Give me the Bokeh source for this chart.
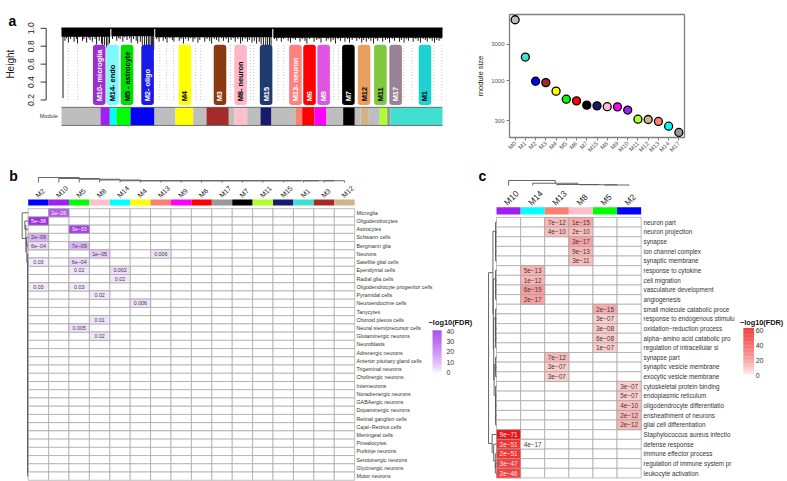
import math
import numpy as np
from bokeh.plotting import figure
from bokeh.layouts import column, row
from bokeh.models import Range1d, FixedTicker, ColumnDataSource, NumeralTickFormatter
from bokeh.embed import file_html
from bokeh.resources import INLINE
from bokeh.core.properties import value

FONT = "Liberation Sans"
MINUS = "\u2212"

# ---------------- module colours (WGCNA standard) ----------------
MODULE_COLORS = {"M0": "#bebebe", "M1": "#40e0d0", "M2": "#0000ff", "M3": "#a52a2a",
                 "M4": "#ffff00", "M5": "#00ff00", "M6": "#ff0000", "M7": "#000000",
                 "M8": "#ffc0cb", "M9": "#ff00ff", "M10": "#a020f0", "M11": "#adff2f",
                 "M12": "#d2b48c", "M13": "#fa8072", "M14": "#00ffff", "M15": "#191970",
                 "M17": "#999999"}

# ---------------- panel a: gene dendrogram ----------------
a_box_labels = ["M10- microglia", "M14- endo", "M5 - astrocyte", "M2- oligo", "M4", "M3",
                "M8- neuron", "M15", "M13- neuron", "M6", "M9", "M7", "M12", "M11", "M17", "M1"]
a_box_pos = [9.9, 13.4, 17.2, 22.6, 32.4, 41.6, 47.0, 53.7, 61.4, 65.1, 68.8, 75.3, 79.4, 83.7, 87.7, 95.4]
a_box_colors = ["#9b30d0", "#80f8ff", "#00e000", "#1a1ae8", "#ffff00", "#8b3a10", "#ffb6c8",
                "#1f3a6e", "#ff8080", "#ff0000", "#e055e0", "#000000", "#e8a060", "#80c840",
                "#9a8296", "#1ed2d2"]
a_box_text_colors = ["white", "black", "black", "white", "black", "white", "black", "white",
                     "white", "white", "white", "white", "black", "black", "white", "black"]
a_bar_edges = [0, 10.24, 12.68, 14.44, 18.11, 24.41, 29.92, 34.57, 38.06, 43.91, 45.41, 48.74,
               52.23, 55.12, 61.42, 63.18, 66.4, 69.55, 73.93, 76.98, 78.48, 80.66, 83.54,
               85.48, 86.35, 100]
a_bar_modules = ["M0", "M10", "M14", "M5", "M2", "M0", "M4", "M0", "M3", "M0", "M8", "M0", "M15",
                 "M0", "M13", "M6", "M9", "M0", "M7", "M0", "M12", "M0", "M11", "M17", "M1"]
a_leaf_x = [1.8, 4.2, 25.8, 27.6, 29.4, 35.2, 36.5, 44.4, 49.6, 50.4, 56.9, 58.3, 71.4, 72.7,
            89.8, 92.0, 97.7, 99.8]
a_band_left = [0.0, 13.1, 24.6, 55.6]
a_band_right = [12.8, 24.3, 55.3, 100.0]
a_band_bottom = [0.905, 0.91, 0.9, 0.895]
a_spike_x = [0.4, 0.9, 1.3, 1.8, 2.4, 2.7, 3.3, 3.9, 4.2, 4.8, 5.5, 5.9, 6.6, 7.2, 7.5, 8.1, 8.8,
             9.2, 9.9, 10.5, 10.8, 11.3, 11.8, 12.2, 12.6,
             13.4, 13.9, 14.5, 15.0, 15.4, 16.1, 16.6, 17.2, 17.9, 18.3, 18.9, 19.6, 20.0, 20.7,
             21.2, 21.8, 22.3, 22.8, 23.2, 23.6, 23.9, 24.2,
             25.0, 25.6, 26.0, 26.7, 27.3, 27.7, 28.4, 29.1, 29.5, 30.2, 30.9, 31.4, 32.0, 32.6,
             33.3, 33.8, 34.5, 35.0, 35.8, 36.3, 37.0, 37.6, 38.2, 38.9, 39.4, 40.1, 40.7, 41.3,
             42.0, 42.5, 43.2, 43.8, 44.5, 45.1, 45.6, 46.3, 47.0, 47.5, 48.2, 48.8, 49.3, 50.0,
             50.6, 51.2, 51.9, 52.4, 53.0, 53.6, 54.1, 54.6, 55.0,
             55.9, 56.5, 57.0, 57.7, 58.3, 58.8, 59.5, 60.1, 60.8, 61.4, 61.9, 62.6, 63.2, 63.9,
             64.4, 65.1, 65.7, 66.3, 67.0, 67.6, 68.1, 68.8, 69.5, 70.0, 70.7, 71.3, 71.9, 72.6,
             73.2, 73.7, 74.4, 75.1, 75.6, 76.3, 76.9, 77.5, 78.2, 78.8, 79.3, 80.0, 80.6, 81.2,
             81.9, 82.5, 83.0, 83.7, 84.3, 85.0, 85.6, 86.1, 86.8, 87.4, 88.0, 88.7, 89.2, 89.9,
             90.5, 91.1, 91.8, 92.3, 93.0, 93.6, 94.2, 94.9, 95.5, 96.0, 96.7, 97.3, 97.9, 98.5,
             99.1, 99.6]
a_spike_h = [0.22, 0.86, 0.89, 0.84, 0.88, 0.91, 0.85, 0.88, 0.83, 0.90, 0.86, 0.88, 0.84, 0.89,
             0.87, 0.85, 0.88, 0.82, 0.86, 0.83, 0.80, 0.81, 0.78, 0.79, 0.83,
             0.88, 0.91, 0.86, 0.89, 0.88, 0.85, 0.90, 0.87, 0.89, 0.84, 0.88, 0.86, 0.83, 0.85,
             0.81, 0.80, 0.77, 0.75, 0.73, 0.71, 0.72, 0.76,
             0.88, 0.85, 0.90, 0.86, 0.88, 0.84, 0.89, 0.87, 0.85, 0.90, 0.86, 0.88, 0.83, 0.88,
             0.86, 0.89, 0.85, 0.88, 0.84, 0.87, 0.90, 0.85, 0.88, 0.86, 0.83, 0.88, 0.87, 0.85,
             0.89, 0.86, 0.88, 0.84, 0.87, 0.89, 0.85, 0.88, 0.83, 0.86, 0.88, 0.85, 0.87, 0.84,
             0.86, 0.83, 0.85, 0.82, 0.81, 0.79, 0.80, 0.78, 0.81,
             0.88, 0.86, 0.89, 0.85, 0.88, 0.90, 0.86, 0.84, 0.88, 0.87, 0.89, 0.85, 0.88, 0.86,
             0.83, 0.88, 0.90, 0.85, 0.87, 0.88, 0.84, 0.89, 0.86, 0.88, 0.85, 0.87, 0.83, 0.88,
             0.86, 0.89, 0.85, 0.88, 0.84, 0.87, 0.89, 0.86, 0.88, 0.84, 0.87, 0.85, 0.88, 0.86,
             0.83, 0.88, 0.86, 0.89, 0.85, 0.87, 0.88, 0.84, 0.88, 0.86, 0.89, 0.85, 0.87, 0.84,
             0.88, 0.86, 0.89, 0.85, 0.88, 0.86, 0.84, 0.88, 0.87, 0.85, 0.88, 0.86, 0.84, 0.87,
             0.86, 0.88]
a_height_ticks = [0.2, 0.4, 0.6, 0.8, 1.0]

# ---------------- scatter: module sizes ----------------
s_modules = ["M0", "M1", "M2", "M3", "M4", "M5", "M6", "M7", "M15", "M8", "M9", "M10",
             "M11", "M12", "M13", "M14", "M17"]
s_sizes = [6300, 2050, 990, 950, 735, 577, 548, 482, 472, 460, 458, 416, 316, 313, 295, 256, 212]
s_ticks = [300, 1000, 3000]

# ---------------- panel b: cell-type enrichment ----------------
b_cols = ["M2", "M10", "M5", "M8", "M14", "M4", "M13", "M9", "M6", "M17", "M7", "M11",
          "M15", "M1", "M3", "M12"]
b_rows = ["Microglia", "Oligodendrocytes", "Astrocytes", "Schwann cells", "Bergmann glia",
          "Neurons", "Satellite glial cells", "Ependymal cells", "Radial glia cells",
          "Oligodendrocyte progenitor cells", "Pyramidal cells", "Neuroendocrine cells",
          "Tanycytes", "Choroid plexus cells", "Neural stem/precursor cells",
          "Glutaminergic neurons", "Neuroblasts", "Adrenergic neurons",
          "Anterior pituitary gland cells", "Trigeminal neurons", "Cholinergic neurons",
          "Interneurons", "Noradrenergic neurons", "GABAergic neurons", "Dopaminergic neurons",
          "Retinal ganglion cells", "Cajal" + MINUS + "Retzius cells", "Meningeal cells",
          "Pinealocytes", "Purkinje neurons", "Serotonergic neurons", "Glycinergic neurons",
          "Motor neurons"]
b_hit_rows = ["Microglia", "Oligodendrocytes", "Astrocytes", "Schwann cells", "Bergmann glia",
              "Bergmann glia", "Neurons", "Neurons", "Satellite glial cells",
              "Satellite glial cells", "Ependymal cells", "Ependymal cells", "Radial glia cells",
              "Oligodendrocyte progenitor cells", "Oligodendrocyte progenitor cells",
              "Pyramidal cells", "Neuroendocrine cells", "Choroid plexus cells",
              "Neural stem/precursor cells", "Glutaminergic neurons"]
b_hit_cols = ["M10", "M2", "M5", "M2", "M2", "M5", "M8", "M13", "M2", "M5", "M5", "M14", "M14",
              "M2", "M5", "M8", "M4", "M8", "M5", "M8"]
b_hit_fdr = ["1e-26", "5e-38", "3e-33", "2e-09", "6e-04", "7e-09", "1e-05", "0.006", "0.03",
             "6e-04", "0.02", "0.002", "0.02", "0.03", "0.03", "0.02", "0.006", "0.01",
             "0.005", "0.02"]
b_legend_ticks = [0, 10, 20, 30, 40]

# ---------------- panel c: GO enrichment ----------------
c_cols = ["M10", "M14", "M13", "M8", "M5", "M2"]
c_rows = ["neuron part", "neuron projection", "synapse", "ion channel complex",
          "synaptic membrane", "response to cytokine", "cell migration",
          "vasculature development", "angiogenesis", "small molecule catabolic proce",
          "response to endogenous stimulu", "oxidation" + MINUS + "reduction process",
          "alpha" + MINUS + "amino acid catabolic pro", "regulation of intracellular si",
          "synapse part", "synaptic vesicle membrane", "exocytic vesicle membrane",
          "cytoskeletal protein binding", "endoplasmic reticulum",
          "oligodendrocyte differentiatio", "ensheathment of neurons",
          "glial cell differentiation", "Staphylococcus aureus infectio", "defense response",
          "immune effector process", "regulation of immune system pr", "leukocyte activation"]
c_hit_rows = [0, 0, 1, 1, 2, 3, 4, 5, 6, 7, 8, 9, 10, 11, 12, 13, 14, 15, 16, 17, 18, 19, 20,
              21, 22, 23, 23, 24, 25, 26]
c_hit_cols = ["M13", "M8", "M13", "M8", "M8", "M8", "M8", "M14", "M14", "M14", "M14", "M5",
              "M5", "M5", "M5", "M5", "M13", "M13", "M13", "M2", "M2", "M2", "M2", "M2",
              "M10", "M10", "M14", "M10", "M10", "M10"]
c_hit_fdr = ["7e-12", "1e-15", "4e-10", "2e-10", "3e-17", "9e-13", "3e-11", "5e-13", "1e-12",
             "6e-19", "2e-17", "2e-15", "3e-07", "3e-08", "6e-08", "1e-07", "7e-12", "3e-07",
             "3e-07", "3e-07", "5e-07", "4e-10", "2e-12", "2e-12", "9e-71", "2e-51", "4e-17",
             "2e-51", "3e-47", "2e-46"]
c_hit_filled = [1] * 26 + [0] + [1] * 3
c_legend_ticks = [0, 20, 40, 60]


# ---------------- helpers ----------------
def nlog(s):
    return -math.log10(float(s))


def fmt(s):
    return s.replace("-", MINUS)


def shade(v, vmax, rgb, gamma=0.7):
    t = max(0.0, min(v / vmax, 1.0)) ** gamma
    c = [int(round(255 + (k - 255) * t)) for k in rgb]
    return "#%02x%02x%02x" % tuple(c)


def tree_segments(node):
    if isinstance(node, int):
        return node + 0.5, 0.0, []
    left, right, h = node
    cl, hl, sl = tree_segments(left)
    cr, hr, sr = tree_segments(right)
    segs = sl + sr + [(cl, hl, cl, h), (cr, hr, cr, h), (cl, h, cr, h)]
    return (cl + cr) / 2.0, h, segs


def comb(leaves, h):
    leaves = list(leaves)
    node = leaves[-1]
    for lf in reversed(leaves[:-1]):
        node = (lf, node, h)
    return node


def blank(w, h, xr, yr):
    p = figure(width=w, height=h, x_range=Range1d(*xr), y_range=Range1d(*yr),
               toolbar_location=None, output_backend="svg", x_axis_location=None,
               y_axis_location=None, min_border=0, min_border_left=0, min_border_right=0,
               min_border_top=0, min_border_bottom=0)
    p.outline_line_color = None
    p.grid.visible = False
    return p


def txt(p, x, y, text, size, color="#222222", align="left", baseline="middle", angle=0.0,
        style="normal"):
    src = ColumnDataSource(dict(x=x, y=y, t=text,
                                c=color if isinstance(color, list) else [color] * len(x)))
    p.text(x="x", y="y", text="t", text_color="c", source=src, text_font=value(FONT),
           text_font_size=value(size), text_align=align, text_baseline=baseline, angle=angle,
           text_font_style=style)


def heatmap(p, cols, rows, hit_rows, hit_cols, hit_fdr, hit_filled, vmax, rgb, cell_font,
            row_font, col_font, row_label_x, bar_y0, bar_y1, col_label_dx, col_label_y,
            strong_text, row_tree, col_tree, row_h_scale, col_base, col_h_scale,
            leg_x0, leg_x1, leg_row0, leg_row_per_unit, leg_vmax, leg_ticks, leg_label_x,
            leg_title_y, leg_title_x, leg_title_font):
    nr, nc = len(rows), len(cols)
    gx, gy = [], []
    for i in range(nr):
        for j in range(nc):
            gx.append(j + 0.5)
            gy.append(i + 0.5)
    p.rect(gx, gy, width=1, height=1, fill_color="white", line_color="#a3a3a3", line_width=0.7)
    hx, hy, hc, ht, htc = [], [], [], [], []
    for r, c, f, fl in zip(hit_rows, hit_cols, hit_fdr, hit_filled):
        ri = rows.index(r) if isinstance(r, str) else r
        ci = cols.index(c)
        v = nlog(f) if fl else 0.0
        hx.append(ci + 0.5)
        hy.append(ri + 0.5)
        hc.append(shade(v, vmax, rgb))
        ht.append(fmt(f))
        tt = max(0.0, min(v / vmax, 1.0)) ** 0.7
        htc.append(strong_text if tt > 0.6 else "#3c3c3c")
    p.rect(hx, hy, width=1, height=1, fill_color=hc, line_color="#a3a3a3", line_width=0.7)
    txt(p, hx, hy, ht, cell_font, color=htc, align="center")
    p.quad(left=[j for j in range(nc)], right=[j + 1 for j in range(nc)],
           bottom=[bar_y0] * nc, top=[bar_y1] * nc,
           fill_color=[MODULE_COLORS[c] for c in cols], line_color=None)
    txt(p, [j + col_label_dx for j in range(nc)], [col_label_y] * nc, cols, col_font,
        color="#222222", align="left", baseline="middle", angle=math.pi / 4)
    txt(p, [row_label_x] * nr, [i + 0.5 for i in range(nr)], rows, row_font, color="#333333")
    _, _, segs = tree_segments(row_tree)
    p.segment(x0=[-s[1] * row_h_scale for s in segs], y0=[s[0] for s in segs],
              x1=[-s[3] * row_h_scale for s in segs], y1=[s[2] for s in segs],
              line_color="#555555", line_width=0.9)
    _, _, segs = tree_segments(col_tree)
    p.segment(x0=[s[0] for s in segs], y0=[col_base - s[1] * col_h_scale for s in segs],
              x1=[s[2] for s in segs], y1=[col_base - s[3] * col_h_scale for s in segs],
              line_color="#555555", line_width=0.9)
    steps = np.linspace(0, leg_vmax, 61)
    p.quad(left=[leg_x0] * 60, right=[leg_x1] * 60,
           bottom=[leg_row0 - steps[k] * leg_row_per_unit for k in range(60)],
           top=[leg_row0 - steps[k + 1] * leg_row_per_unit for k in range(60)],
           fill_color=[shade((steps[k] + steps[k + 1]) / 2, vmax, rgb) for k in range(60)],
           line_color=None)
    txt(p, [leg_label_x] * len(leg_ticks), [leg_row0 - t * leg_row_per_unit for t in leg_ticks],
        [str(t) for t in leg_ticks], "7px", color="#333333")
    txt(p, [leg_title_x], [leg_title_y], [MINUS + "log10(FDR)"], leg_title_font,
        color="#111111", style="bold")


# ================= panel a figure =================
fa = blank(450, 163, (-16.01, 102.1), (-0.2185, 1.154))
AX = -4.02  # axis line position (left of first leaf)
fa.segment(x0=[AX], y0=[a_height_ticks[0]], x1=[AX], y1=[a_height_ticks[-1]],
           line_color="#333333", line_width=1)
fa.segment(x0=[AX] * len(a_height_ticks), y0=a_height_ticks,
           x1=[AX - 1.45] * len(a_height_ticks), y1=a_height_ticks,
           line_color="#333333", line_width=1)
txt(fa, [AX - 4.1] * len(a_height_ticks), a_height_ticks, ["%.1f" % t for t in a_height_ticks],
    "8.5px", color="#222222", align="center", angle=math.pi / 2)
txt(fa, [-13.4], [0.6], ["Height"], "10px", color="#222222", align="center", angle=math.pi / 2)
txt(fa, [-12.9], [1.087], ["a"], "14px", color="black", align="center", style="bold")
txt(fa, [-3.33], [0.017], ["Module"], "5.5px", color="#333333", align="center")

fa.segment(x0=a_leaf_x, y0=[0.2] * len(a_leaf_x), x1=a_leaf_x, y1=[0.83] * len(a_leaf_x),
           line_color="#bdbdbd", line_width=0.8, line_dash="1 2")
fa.quad(left=a_band_left, right=a_band_right, bottom=a_band_bottom, top=[1.0] * 4,
        fill_color="black", line_color=None)
fa.segment(x0=a_spike_x, y0=a_spike_h, x1=a_spike_x, y1=[1.0] * len(a_spike_x),
           line_color="black", line_width=0.9)
fa.segment(x0=[0.0], y0=[1.0], x1=[100.0], y1=[1.0], line_color="black", line_width=1.5)
bw = 3.3
fa.quad(left=[x - bw / 2 for x in a_box_pos], right=[x + bw / 2 for x in a_box_pos],
        bottom=[0.145] * len(a_box_pos), top=[0.817] * len(a_box_pos),
        fill_color=a_box_colors, line_color=None, border_radius=3)
txt(fa, a_box_pos, [0.185] * len(a_box_pos), a_box_labels, "7.4px", color=a_box_text_colors,
    align="left", angle=math.pi / 2, style="bold")
fa.quad(left=a_bar_edges[:-1], right=a_bar_edges[1:], bottom=[-0.084] * len(a_bar_modules),
        top=[0.118] * len(a_bar_modules), fill_color=[MODULE_COLORS[m] for m in a_bar_modules],
        line_color=None)
fa.segment(x0=[0.0, 0.0], y0=[0.118, -0.084], x1=[100.0, 100.0], y1=[0.118, -0.084],
           line_color="#555555", line_width=0.8)

# ================= scatter figure =================
fs = figure(width=337, height=163, x_range=Range1d(-0.55, 16.55), y_range=Range1d(182, 7380),
            y_axis_type="log", toolbar_location=None, output_backend="svg",
            min_border_left=59, min_border_right=103, min_border_top=14, min_border_bottom=26)
fs.grid.visible = False
fs.outline_line_color = "#7f7f7f"
fs.outline_line_width = 1.3
fs.xaxis.ticker = FixedTicker(ticks=list(range(len(s_modules))))
fs.xaxis.major_label_overrides = {i: m for i, m in enumerate(s_modules)}
fs.xaxis.major_label_orientation = math.pi / 4
fs.yaxis.ticker = FixedTicker(ticks=s_ticks)
fs.yaxis.formatter = NumeralTickFormatter(format="0")
fs.yaxis.axis_label = "module size"
fs.yaxis.axis_label_text_font = FONT
fs.yaxis.axis_label_text_font_size = "7.6px"
fs.yaxis.axis_label_text_font_style = "normal"
fs.yaxis.axis_label_text_color = "#222222"
fs.yaxis.axis_label_standoff = 3
for ax in (fs.xaxis[0], fs.yaxis[0]):
    ax.axis_line_color = None
    ax.major_tick_line_color = "#7f7f7f"
    ax.major_tick_out = 3
    ax.major_tick_in = 0
    ax.minor_tick_line_color = None
    ax.major_label_text_font = FONT
    ax.major_label_text_font_size = "6px"
    ax.major_label_text_color = "#555555"
    ax.major_label_standoff = 2
fs.scatter(x=list(range(len(s_modules))), y=s_sizes, size=8, line_color="black", line_width=1.3,
           fill_color=[MODULE_COLORS[m] for m in s_modules])

# ================= panel b figure =================
fb = blank(478, 318, (-1.358, 22.07), (33.15, -5.49))
b_row_tree = (0, ((1, 2, 0.5), ((3, 4, 0.25), comb(range(5, 33), 0.08), 0.2), 0.35), 0.9)
b_col_tree = (0, (1, (2, (3, comb(range(4, 16), 0.35), 0.5), 0.65), 0.8), 1.0)
heatmap(fb, b_cols, b_rows, b_hit_rows, b_hit_cols, b_hit_fdr, [1] * len(b_hit_fdr),
        41.0, (150, 30, 230), "5.3px", "5.3px", "7px", 16.09, -1.12, -0.39, 0.42, -1.48,
        "white", b_row_tree, b_col_tree, 0.33, -3.18, 0.61,
        19.82, 20.26, 19.9, 0.1245, 41.0, b_legend_ticks, 20.5, 13.83, 19.62, "7.4px")
txt(fb, [-0.72], [-4.03], ["b"], "14px", color="black", align="center", style="bold")

# ================= panel c figure =================
fc = blank(309, 318, (-0.747, 12.07), (27.37, -5.59))
c_row_tree = ((comb(range(0, 5), 0.12),
               (comb(range(5, 9), 0.12),
                (comb(range(9, 14), 0.12),
                 (comb(range(14, 17), 0.12), comb(range(17, 22), 0.12), 0.3), 0.35), 0.4), 0.45),
              (22, (23, comb([24, 25, 26], 0.15), 0.35), 0.55), 1.0)
c_col_tree = (0, (1, (2, (3, (4, 5, 0.1), 0.15), 0.2), 0.45), 1.0)
heatmap(fc, c_cols, c_rows, c_hit_rows, c_hit_cols, c_hit_fdr, c_hit_filled,
        63.0, (238, 20, 20), "6.4px", "6.3px", "8.5px", 6.1, -1.06, -0.30, 0.37, -1.41,
        "#ffe4e4", c_row_tree, c_col_tree, 0.33, -3.31, 0.52,
        10.24, 10.68, 16.38, 0.0778, 63.0, c_legend_ticks, 10.75, 10.86, 10.1, "7.3px")
txt(fc, [-0.59], [-4.34], ["c"], "14px", color="black", align="center", style="bold")

layout = column(row(fa, fs), row(fb, fc))
open("out.html", "w").write(file_html(layout, INLINE))
